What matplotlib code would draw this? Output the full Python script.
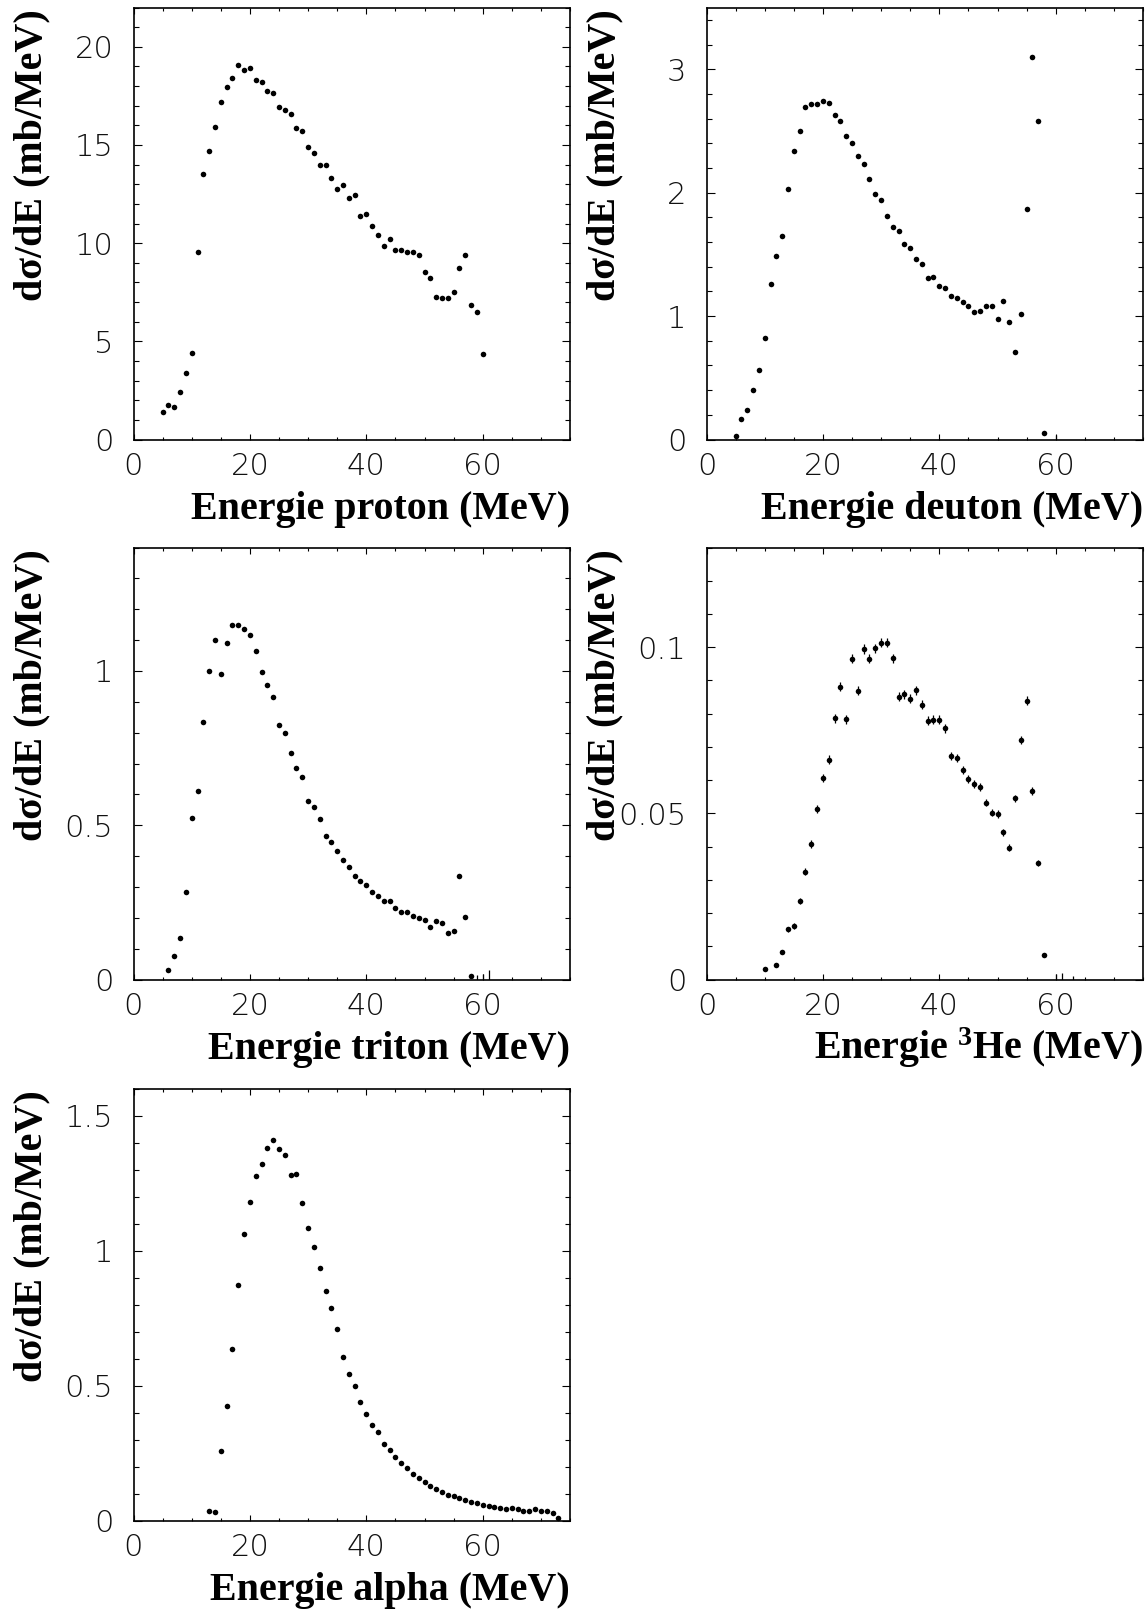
import matplotlib
matplotlib.use('Agg')
import matplotlib.pyplot as plt
from matplotlib.ticker import MultipleLocator, FuncFormatter

# data (1 MeV bins)
proton_E = [5, 6, 7, 8, 9, 10, 11, 12, 13, 14, 15, 16, 17, 18, 19, 20, 21, 22, 23, 24,
            25, 26, 27, 28, 29, 30, 31, 32, 33, 34, 35, 36, 37, 38, 39, 40, 41, 42, 43, 44,
            45, 46, 47, 48, 49, 50, 51, 52, 53, 54, 55, 56, 57, 58, 59, 60]
proton_xs = [1.38, 1.77, 1.64, 2.40, 3.37, 4.43, 9.54, 13.53, 14.70, 15.93, 17.19, 17.94,
             18.43, 19.06, 18.82, 18.93, 18.31, 18.21, 17.77, 17.67, 16.92, 16.76, 16.58,
             15.88, 15.72, 14.92, 14.60, 14.00, 13.99, 13.32, 12.78, 12.95, 12.30, 12.44,
             11.38, 11.47, 10.89, 10.43, 9.86, 10.22, 9.66, 9.63, 9.57, 9.57, 9.39, 8.54,
             8.21, 7.26, 7.19, 7.22, 7.53, 8.74, 9.42, 6.87, 6.51, 4.33]

deuton_E = [5, 6, 7, 8, 9, 10, 11, 12, 13, 14, 15, 16, 17, 18, 19, 20, 21, 22, 23, 24,
            25, 26, 27, 28, 29, 30, 31, 32, 33, 34, 35, 36, 37, 38, 39, 40, 41, 42, 43, 44,
            45, 46, 47, 48, 49, 50, 51, 52, 53, 54, 55, 56, 57, 58]
deuton_xs = [0.03, 0.17, 0.24, 0.40, 0.56, 0.82, 1.26, 1.49, 1.65, 2.03, 2.34, 2.50, 2.69,
             2.72, 2.72, 2.74, 2.73, 2.63, 2.58, 2.46, 2.40, 2.30, 2.23, 2.11, 1.99, 1.94,
             1.81, 1.72, 1.69, 1.58, 1.55, 1.46, 1.42, 1.31, 1.32, 1.24, 1.23, 1.16, 1.15,
             1.11, 1.08, 1.03, 1.04, 1.08, 1.08, 0.98, 1.12, 0.95, 0.71, 1.02, 1.87, 3.10,
             2.58, 0.05]
deuton_zero_E = [60]
deuton_zero_err = [0.04]

triton_E = [6, 7, 8, 9, 10, 11, 12, 13, 14, 15, 16, 17, 18, 19, 20, 21, 22, 23, 24, 25,
            26, 27, 28, 29, 30, 31, 32, 33, 34, 35, 36, 37, 38, 39, 40, 41, 42, 43, 44, 45,
            46, 47, 48, 49, 50, 51, 52, 53, 54, 55, 56, 57, 58]
triton_xs = [0.031, 0.077, 0.135, 0.285, 0.525, 0.612, 0.836, 1.000, 1.099, 0.990, 1.092,
             1.149, 1.148, 1.137, 1.116, 1.066, 0.998, 0.956, 0.916, 0.826, 0.800, 0.733,
             0.685, 0.655, 0.579, 0.558, 0.521, 0.464, 0.445, 0.415, 0.387, 0.363, 0.336,
             0.318, 0.307, 0.285, 0.270, 0.253, 0.253, 0.231, 0.219, 0.218, 0.205, 0.200,
             0.193, 0.169, 0.189, 0.184, 0.152, 0.156, 0.336, 0.202, 0.011]
triton_zero_E = [59, 60, 61]
triton_zero_err = [0.016, 0.018, 0.032]

he3_E = [10, 12, 13, 14, 15, 16, 17, 18, 19, 20, 21, 22, 23, 24, 25, 26, 27, 28, 29, 30,
         31, 32, 33, 34, 35, 36, 37, 38, 39, 40, 41, 42, 43, 44, 45, 46, 47, 48, 49, 50,
         51, 52, 53, 54, 55, 56, 57, 58]
he3_xs = [0.0033, 0.0045, 0.0082, 0.0151, 0.0161, 0.0236, 0.0325, 0.0408, 0.0513, 0.0605,
          0.0662, 0.0786, 0.0881, 0.0783, 0.0965, 0.0869, 0.0995, 0.0965, 0.0997, 0.1014,
          0.1014, 0.0966, 0.0851, 0.0858, 0.0845, 0.0870, 0.0827, 0.0779, 0.0782, 0.0782,
          0.0756, 0.0672, 0.0668, 0.0629, 0.0603, 0.0587, 0.0579, 0.0532, 0.0502, 0.0498,
          0.0443, 0.0397, 0.0545, 0.0722, 0.0839, 0.0567, 0.0350, 0.0075]
he3_err = [0.0004, 0.0005, 0.0006, 0.0008, 0.0008, 0.0009, 0.0010, 0.0011, 0.0012, 0.0012,
           0.0013, 0.0013, 0.0014, 0.0013, 0.0014, 0.0014, 0.0014, 0.0014, 0.0014, 0.0014,
           0.0014, 0.0014, 0.0013, 0.0013, 0.0013, 0.0013, 0.0013, 0.0013, 0.0013, 0.0013,
           0.0013, 0.0012, 0.0012, 0.0012, 0.0012, 0.0012, 0.0012, 0.0011, 0.0011, 0.0011,
           0.0010, 0.0010, 0.0011, 0.0012, 0.0013, 0.0011, 0.0009, 0.0005]
he3_zero_E = [60, 61, 63]
he3_zero_err = [0.0017, 0.0020, 0.0012]

alpha_E = [13, 14, 15, 16, 17, 18, 19, 20, 21, 22, 23, 24, 25, 26, 27, 28, 29, 30, 31, 32,
           33, 34, 35, 36, 37, 38, 39, 40, 41, 42, 43, 44, 45, 46, 47, 48, 49, 50, 51, 52,
           53, 54, 55, 56, 57, 58, 59, 60, 61, 62, 63, 64, 65, 66, 67, 68, 69, 70, 71, 72, 73]
alpha_xs = [0.035, 0.033, 0.258, 0.424, 0.635, 0.871, 1.062, 1.181, 1.275, 1.320, 1.380,
            1.410, 1.375, 1.355, 1.279, 1.283, 1.175, 1.085, 1.013, 0.937, 0.851, 0.788,
            0.711, 0.607, 0.541, 0.497, 0.440, 0.396, 0.353, 0.326, 0.285, 0.261, 0.235,
            0.212, 0.195, 0.171, 0.157, 0.141, 0.129, 0.116, 0.105, 0.095, 0.090, 0.082,
            0.075, 0.068, 0.064, 0.059, 0.053, 0.049, 0.046, 0.042, 0.046, 0.042, 0.036,
            0.036, 0.041, 0.037, 0.035, 0.026, 0.010]

ylab = 'd\u03c3/dE (mb/MeV)'
serif = 'Liberation Serif'
plt.rcParams['mathtext.fontset'] = 'custom'
plt.rcParams['mathtext.rm'] = 'Liberation Serif:bold'
plt.rcParams['mathtext.bf'] = 'Liberation Serif:bold'
plt.rcParams['mathtext.default'] = 'rm'

fig = plt.figure(figsize=(11.47, 16.13), dpi=100)

W, H = 1147., 1613.
cols = [133.5, 706.5]
rows = [7.5, 547.5, 1088.5]
aw, ah = 436.5, 432.0

fmt = FuncFormatter(lambda v, p: '%g' % round(v, 6))


def panel(col, row, E, xs, ymax, ymaj, ymin, xlabel, err=None, zE=None, zerr=None):
    ax = fig.add_axes([cols[col] / W, 1 - (rows[row] + ah) / H, aw / W, ah / H])
    if err is None:
        ax.plot(E, xs, 'o', color='black', ms=4.0, mew=0)
    else:
        ax.errorbar(E, xs, yerr=err, fmt='o', color='black', ms=4.0, mew=0,
                    elinewidth=0.9, capsize=0)
    if zE is not None:
        ax.errorbar(zE, [0] * len(zE), yerr=zerr, fmt='none', ecolor='black',
                    elinewidth=0.9, capsize=0)
    ax.set_xlim(0, 75)
    ax.set_ylim(0, ymax)
    ax.xaxis.set_major_locator(MultipleLocator(20))
    ax.xaxis.set_minor_locator(MultipleLocator(5))
    ax.yaxis.set_major_locator(MultipleLocator(ymaj))
    ax.yaxis.set_minor_locator(MultipleLocator(ymin))
    ax.xaxis.set_major_formatter(fmt)
    ax.yaxis.set_major_formatter(fmt)
    ax.tick_params(which='both', direction='in', top=True, right=True, width=0.8)
    ax.tick_params(axis='x', which='major', length=4, pad=9)
    ax.tick_params(axis='x', which='minor', length=2)
    ax.tick_params(axis='y', which='major', length=6, pad=14.5)
    ax.tick_params(axis='y', which='minor', length=3.5)
    for lab in ax.get_xticklabels() + ax.get_yticklabels():
        lab.set_family('DejaVu Sans')
        lab.set_fontweight(200)
        lab.set_fontsize(22)
        lab.set_color('#111111')
    for s in ax.spines.values():
        s.set_linewidth(1.2)
    ax.annotate(xlabel, xy=(1, 0), xycoords='axes fraction', xytext=(0, -57),
                textcoords='offset points', ha='right', va='baseline',
                fontsize=28.8, family=serif, fontweight='bold')
    ax.annotate(ylab, xy=(0, 1), xycoords='axes fraction', xytext=(-66, -1),
                textcoords='offset points', ha='right', va='baseline', rotation=90,
                rotation_mode='anchor', fontsize=28.8, family=serif, fontweight='bold')
    return ax


panel(0, 0, proton_E, proton_xs, 22, 5, 1, 'Energie proton (MeV)')
panel(1, 0, deuton_E, deuton_xs, 3.5, 1, 0.2, 'Energie deuton (MeV)',
      zE=deuton_zero_E, zerr=deuton_zero_err)
panel(0, 1, triton_E, triton_xs, 1.4, 0.5, 0.1, 'Energie triton (MeV)',
      zE=triton_zero_E, zerr=triton_zero_err)
panel(1, 1, he3_E, he3_xs, 0.13, 0.05, 0.01, 'Energie $^{3}$He (MeV)', err=he3_err,
      zE=he3_zero_E, zerr=he3_zero_err)
panel(0, 2, alpha_E, alpha_xs, 1.6, 0.5, 0.1, 'Energie alpha (MeV)')

fig.savefig('out.png', dpi=100)
